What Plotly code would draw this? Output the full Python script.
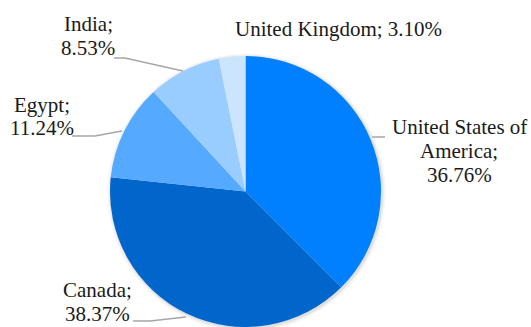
import plotly.graph_objects as go

# ---- data ----
countries = ["United States of America", "Canada", "Egypt", "India", "United Kingdom"]
shares = [36.76, 38.37, 11.24, 8.53, 3.10]
colors = ["#0080ff", "#0066cc", "#55aaff", "#99ccff", "#cce5ff"]

W, H = 531, 327

def px(x):
    return x / W

def py(y):
    return 1 - y / H

# pie geometry (pixels)
cx, top = 245.5, 56
r = (H - top) / 2.0
cy = top + r

fig = go.Figure()
fig.add_trace(go.Pie(
    labels=countries,
    values=shares,
    sort=False,
    direction="clockwise",
    rotation=0,
    marker=dict(colors=colors, line=dict(width=0)),
    textinfo="none",
    hoverinfo="label+percent",
    showlegend=False,
    domain=dict(x=[px(cx - r - 1), px(cx + r + 1)], y=[0, py(top)]),
))

shapes = []
# soft shadow around pie
for extra, alpha in [(4, 0.025), (2.5, 0.04), (1.2, 0.06)]:
    shapes.append(dict(type="circle", xref="paper", yref="paper", layer="below",
                       x0=px(cx - r - extra + 1), x1=px(cx + r + extra + 1),
                       y0=py(cy + r + extra + 1), y1=py(cy - r - extra + 1),
                       fillcolor=f"rgba(0,0,0,{alpha})", line=dict(width=0)))

# leader lines (pixel paths)
leaders = [
    [(372, 137), (385, 137)],
    [(114, 58), (125, 58), (183, 71)],
    [(72, 136), (95, 136), (122, 131)],
    [(133, 321), (150, 321), (186, 317)],
]
for pts in leaders:
    path = "M " + " L ".join(f"{px(x)},{py(y)}" for x, y in pts)
    shapes.append(dict(type="path", xref="paper", yref="paper", path=path,
                       line=dict(color="#a6a6a6", width=1.5)))

# label text lines: (text, center x px, center y px)
pct = {c: f"{v:.2f}%" for c, v in zip(countries, shares)}
label_lines = [
    (f"United Kingdom; {pct['United Kingdom']}", 338, 28.5),
    ("United States of", 459, 127),
    ("America;", 459, 151),
    (pct["United States of America"], 459, 175),
    ("India;", 88, 24),
    (pct["India"], 88, 48),
    ("Egypt;", 42, 104.5),
    (pct["Egypt"], 42, 128),
    ("Canada;", 97, 289.5),
    (pct["Canada"], 97, 314),
]
annotations = []
for t, x, y in label_lines:
    annotations.append(dict(text=t, x=px(x), y=py(y), xref="paper", yref="paper",
                            xanchor="center", yanchor="middle", showarrow=False,
                            font=dict(family="Liberation Serif",
                                      size=21, color="#1a1a1a")))

fig.update_layout(
    width=W, height=H,
    margin=dict(l=0, r=0, t=0, b=0),
    paper_bgcolor="white",
    plot_bgcolor="white",
    shapes=shapes,
    annotations=annotations,
)

fig.write_html("out.html")
